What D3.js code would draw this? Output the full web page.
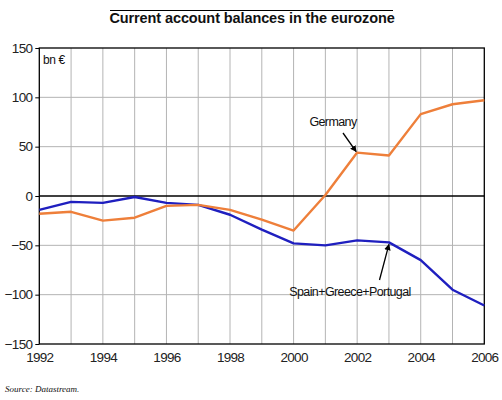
<!DOCTYPE html>
<html>
<head>
<meta charset="utf-8">
<script src="https://cdn.jsdelivr.net/npm/d3@7"></script>
<style>
  html, body { margin: 0; padding: 0; background: #fff; }
  svg { display: block; }
</style>
</head>
<body>
<svg id="chart" width="502" height="400"></svg>
<script>
const years = [1992,1993,1994,1995,1996,1997,1998,1999,2000,2001,2002,2003,2004,2005,2006];
const germany = [-18,-16,-25,-22,-10,-9,-14,-24,-35,1,44,41,83,93,97];
const southern = [-14,-6,-7,-1,-7,-9,-19,-34,-48,-50,-45,-47,-65,-95,-111];
const yTicks = [-150,-100,-50,0,50,100,150];
const xTickLabels = [1992,1994,1996,1998,2000,2002,2004,2006];

const svg = d3.select("#chart");
const margin = {left: 39.3, right: 502 - 484.3, top: 48, bottom: 400 - 344};
const W = 502, H = 400;
const x = d3.scaleLinear().domain([1992, 2006]).range([margin.left, W - margin.right]);
const y = d3.scaleLinear().domain([-150, 150]).range([H - margin.bottom, margin.top]);

// gridlines
const grid = svg.append("g");
grid.selectAll("line.v").data(years.slice(1, -1)).join("line")
  .attr("x1", d => x(d)).attr("x2", d => x(d))
  .attr("y1", y(150)).attr("y2", y(-150))
  .attr("stroke", "#b4b4b4").attr("stroke-width", 1);
grid.selectAll("line.h").data(yTicks.filter(d => d !== 0 && d !== 150 && d !== -150)).join("line")
  .attr("x1", x(1992)).attr("x2", x(2006))
  .attr("y1", d => y(d)).attr("y2", d => y(d))
  .attr("stroke", "#b4b4b4").attr("stroke-width", 1);

// zero line
svg.append("line").attr("x1", x(1992)).attr("x2", x(2006))
  .attr("y1", y(0)).attr("y2", y(0)).attr("stroke", "#000").attr("stroke-width", 1.3);

// frame
svg.append("rect").attr("x", x(1992)).attr("y", y(150))
  .attr("width", x(2006) - x(1992)).attr("height", y(-150) - y(150))
  .attr("fill", "none").attr("stroke", "#000").attr("stroke-width", 1.3);

// axes
const yAxis = d3.axisLeft(y).tickValues(yTicks).tickSize(4).tickPadding(3);
const gy = svg.append("g").attr("transform", `translate(${x(1992)},0)`).call(yAxis);
gy.select(".domain").remove();
gy.selectAll("line").attr("stroke", "#000");
gy.selectAll("text").attr("font-family", "Liberation Sans, Arial, sans-serif")
  .attr("font-size", 13.5).attr("fill", "#222").attr("letter-spacing", -0.7);

const xAxis = d3.axisBottom(x).tickValues(xTickLabels).tickFormat(d3.format("d")).tickSize(0).tickPadding(8);
const gx = svg.append("g").attr("transform", `translate(0,${y(-150)})`).call(xAxis);
gx.select(".domain").remove();
gx.selectAll("text").attr("font-family", "Liberation Sans, Arial, sans-serif")
  .attr("font-size", 13.5).attr("fill", "#222").attr("letter-spacing", -0.7);

// lines
const line = d3.line().x((d, i) => x(years[i])).y(d => y(d));
svg.append("path").datum(southern).attr("d", line)
  .attr("fill", "none").attr("stroke", "#1f1fbf").attr("stroke-width", 2.4).attr("stroke-linejoin", "round");
svg.append("path").datum(germany).attr("d", line)
  .attr("fill", "none").attr("stroke", "#ee7f3a").attr("stroke-width", 2.4).attr("stroke-linejoin", "round");

// title
svg.append("text").attr("x", 252).attr("y", 23).attr("text-anchor", "middle")
  .attr("font-family", "Liberation Sans, Arial, sans-serif").attr("font-weight", "bold")
  .attr("font-size", 14.5).attr("fill", "#111").attr("letter-spacing", -0.1)
  .text("Current account balances in the eurozone");
svg.append("line").attr("x1", 110).attr("x2", 393).attr("y1", 10.5).attr("y2", 10.5)
  .attr("stroke", "#000").attr("stroke-width", 1);

// unit
svg.append("text").attr("x", 43).attr("y", 64)
  .attr("font-family", "Liberation Sans, Arial, sans-serif").attr("font-size", 12)
  .attr("fill", "#111").attr("letter-spacing", -0.4).text("bn €");

// annotations
const defs = svg.append("defs");
defs.append("marker").attr("id", "arr").attr("viewBox", "0 0 10 10")
  .attr("refX", 9).attr("refY", 5).attr("markerWidth", 5).attr("markerHeight", 5)
  .attr("orient", "auto").append("path").attr("d", "M0,0 L10,5 L0,10 z").attr("fill", "#000");

svg.append("text").attr("x", 333).attr("y", 126).attr("text-anchor", "middle")
  .attr("font-family", "Liberation Sans, Arial, sans-serif").attr("font-size", 12.5)
  .attr("fill", "#111").attr("letter-spacing", -0.6).text("Germany");
svg.append("line").attr("x1", 343).attr("y1", 133).attr("x2", x(2002) - 1).attr("y2", y(germany[10]) - 1)
  .attr("stroke", "#000").attr("stroke-width", 1.3).attr("marker-end", "url(#arr)");

svg.append("text").attr("x", 350).attr("y", 296).attr("text-anchor", "middle")
  .attr("font-family", "Liberation Sans, Arial, sans-serif").attr("font-size", 12.5)
  .attr("fill", "#111").attr("letter-spacing", -0.6).text("Spain+Greece+Portugal");
svg.append("line").attr("x1", 379.5).attr("y1", 280).attr("x2", x(2003)).attr("y2", y(southern[11]) + 2)
  .attr("stroke", "#000").attr("stroke-width", 1.3).attr("marker-end", "url(#arr)");

// source
svg.append("text").attr("x", 5).attr("y", 392)
  .attr("font-family", "Liberation Serif, Times New Roman, serif").attr("font-style", "italic")
  .attr("font-size", 9).attr("fill", "#111").text("Source: Datastream.");
</script>
</body>
</html>
